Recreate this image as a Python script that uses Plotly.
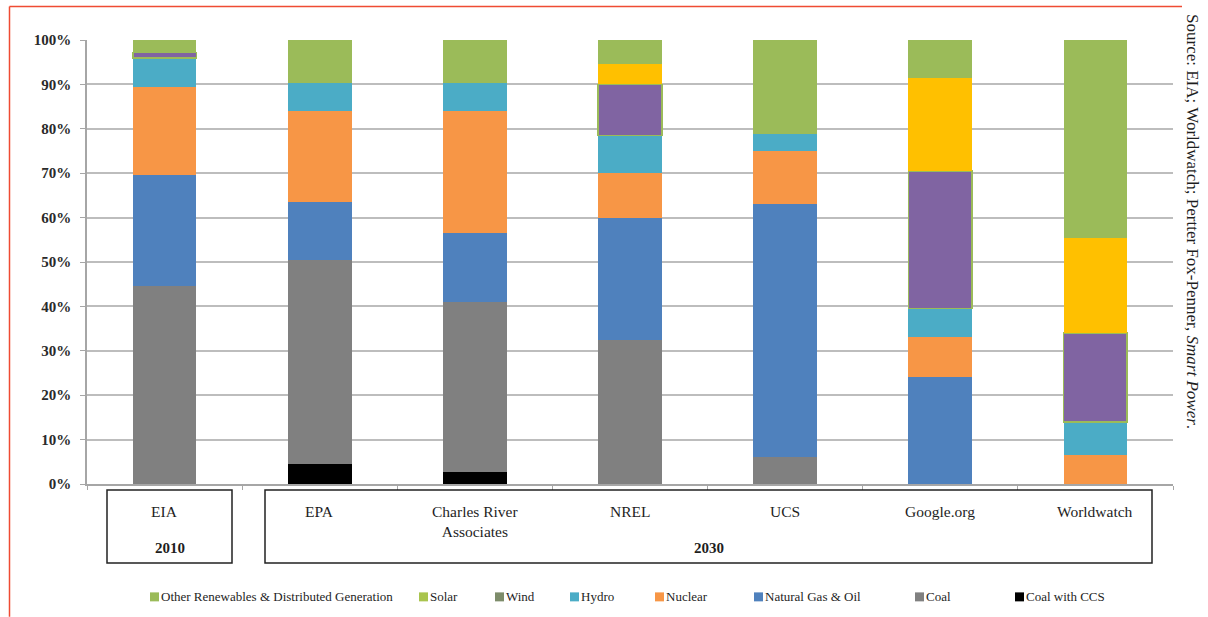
import plotly.graph_objects as go

# ---------------- data ----------------
categories = ["EIA", "EPA", "Charles River Associates", "NREL", "UCS", "Google.org", "Worldwatch"]
category_labels = ["EIA", "EPA", "Charles River<br>Associates", "NREL", "UCS", "Google.org", "Worldwatch"]

coal_ccs = [0, 4.5, 2.7, 0, 0, 0, 0]
coal = [44.5, 46.0, 38.4, 32.5, 6.0, 0, 0]
natural_gas_oil = [25.0, 13.0, 15.5, 27.5, 57.0, 24.0, 0]
nuclear = [20.0, 20.5, 27.4, 10.0, 12.0, 9.0, 6.5]
hydro = [6.5, 6.5, 6.5, 8.5, 4.0, 6.5, 7.5]
wind = [1.2, 0, 0, 11.5, 0, 31.0, 20.0]
solar = [0, 0, 0, 4.5, 0, 21.0, 21.5]
other_renewables = [2.8, 9.5, 9.5, 5.5, 21.0, 8.5, 44.5]

series_names = ["Coal with CCS", "Coal", "Natural Gas & Oil", "Nuclear", "Hydro",
                "Wind", "Solar", "Other Renewables & Distributed Generation"]
series_values = [coal_ccs, coal, natural_gas_oil, nuclear, hydro, wind, solar, other_renewables]
bar_colors = ["#000000", "#808080", "#4f81bd", "#f79646", "#4bacc6", "#8064a2", "#ffc000", "#9bbb59"]

legend_order = ["Other Renewables & Distributed Generation", "Solar", "Wind", "Hydro",
                "Nuclear", "Natural Gas & Oil", "Coal", "Coal with CCS"]
legend_colors = ["#9bbb59", "#a9c44e", "#7d8c6a", "#4bacc6", "#f79646", "#4f81bd", "#808080", "#000000"]
legend_x_px = [150, 419, 495, 570, 655, 754, 915, 1015]

y_ticks = [0, 10, 20, 30, 40, 50, 60, 70, 80, 90, 100]

# ---------------- layout geometry ----------------
W, H = 1208, 617
PL, PR, PT, PB = 87, 1173, 39.5, 484
pw, ph = PR - PL, PB - PT


def px_x(px):
    return (px - PL) / pw


def px_y(py):
    return (PB - py) / ph


def cat_x(px):
    step = pw / len(categories)
    return (px - (PL + step / 2)) / step


SERIF = "Liberation Serif"
TXT = "#1e1e1e"

fig = go.Figure()
for name, vals, col in zip(series_names, series_values, bar_colors):
    line = dict(width=0)
    if name == "Wind":
        line = dict(width=1.5, color="#9bbb59")
    fig.add_trace(go.Bar(
        x=categories, y=vals, name=name, marker=dict(color=col, line=line),
        width=0.41, showlegend=False,
    ))

shapes = []
annotations = []

# category label boxes
shapes.append(dict(type="rect", xref="x", yref="paper",
                   x0=cat_x(107), x1=cat_x(232), y0=px_y(563), y1=px_y(490),
                   line=dict(color="#222222", width=1.5)))
shapes.append(dict(type="rect", xref="x", yref="paper",
                   x0=cat_x(265), x1=cat_x(1152), y0=px_y(563), y1=px_y(490),
                   line=dict(color="#222222", width=1.5)))

for cat, lab in zip(categories, category_labels):
    annotations.append(dict(x=cat, xref="x", y=px_y(501), yref="paper", yanchor="top",
                            text=lab, showarrow=False,
                            font=dict(family=SERIF, size=15.5, color=TXT)))
annotations.append(dict(x=cat_x(169.5), xref="x", y=px_y(548), yref="paper",
                        yanchor="middle", text="<b>2010</b>", showarrow=False,
                        font=dict(family=SERIF, size=15, color=TXT)))
annotations.append(dict(x=cat_x(708.5), xref="x", y=px_y(548), yref="paper",
                        yanchor="middle", text="<b>2030</b>", showarrow=False,
                        font=dict(family=SERIF, size=15, color=TXT)))

# legend (manual)
for name, col, lx in zip(legend_order, legend_colors, legend_x_px):
    shapes.append(dict(type="rect", xref="paper", yref="paper",
                       x0=px_x(lx), x1=px_x(lx + 9), y0=px_y(601.5), y1=px_y(592.5),
                       fillcolor=col, line=dict(width=0)))
    annotations.append(dict(x=px_x(lx + 9), xref="paper", xanchor="left",
                            y=px_y(597), yref="paper", yanchor="middle",
                            text=name, showarrow=False,
                            font=dict(family=SERIF, size=13, color=TXT)))

# source note
annotations.append(dict(x=px_x(1193), xref="paper", xanchor="center",
                        y=px_y(11), yref="paper", yanchor="top", textangle=90,
                        text="Source: EIA; Worldwatch; Pertter Fox-Penner, <i>Smart Power</i>.",
                        showarrow=False, font=dict(family=SERIF, size=17, color=TXT)))

# red frame
frame_col = "#ef4b33"
shapes.append(dict(type="line", xref="paper", yref="paper",
                   x0=px_x(9.5), x1=px_x(1182), y0=px_y(6), y1=px_y(6),
                   line=dict(color=frame_col, width=1.5)))
shapes.append(dict(type="line", xref="paper", yref="paper",
                   x0=px_x(9.5), x1=px_x(9.5), y0=px_y(6), y1=px_y(617),
                   line=dict(color=frame_col, width=1.5)))

fig.update_layout(
    width=W, height=H,
    margin=dict(l=PL, r=W - PR, t=PT, b=H - PB, autoexpand=False),
    barmode="stack",
    paper_bgcolor="white", plot_bgcolor="white",
    shapes=shapes, annotations=annotations,
    font=dict(family=SERIF, color=TXT),
    xaxis=dict(showticklabels=False, showgrid=False, showline=True, linecolor="#a6a6a6",
               linewidth=1.5, ticks="outside", tickson="boundaries", ticklen=4,
               tickcolor="#a6a6a6", range=[-0.5, len(categories) - 0.5]),
    yaxis=dict(range=[0, 100], tickvals=y_ticks,
               ticktext=[f"<b>{v}%</b>" for v in y_ticks],
               showgrid=True, gridcolor="#bdbdbd", gridwidth=1.5,
               showline=True, linecolor="#a6a6a6", linewidth=1.5,
               ticks="outside", ticklen=5, tickcolor="#a6a6a6", ticklabelstandoff=6,
               tickfont=dict(family=SERIF, size=15, color="#2a2a2a"), zeroline=False),
)

fig.write_html("out.html")
